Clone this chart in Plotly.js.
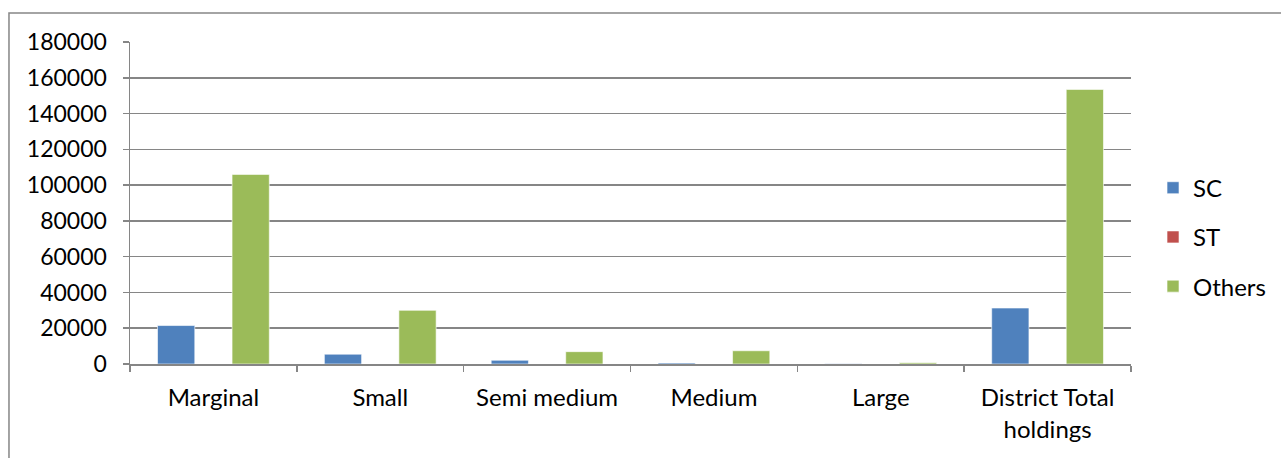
<!DOCTYPE html>
<html>
<head>
<meta charset="utf-8">
<script src="https://cdn.plot.ly/plotly-3.0.1.min.js"></script>
<style>html,body{margin:0;padding:0;background:#fff;}#chart{width:1281px;height:458px;}</style>
</head>
<body>
<div id="chart"></div>
<script>
const categories = ["Marginal", "Small", "Semi medium", "Medium", "Large", "District Total<br>holdings"];
const scValues = [21500, 5500, 2100, 600, 100, 31300];
const stValues = [0, 0, 0, 0, 0, 0];
const othersValues = [106000, 30000, 6900, 7400, 700, 153500];
const yTicks = [0, 20000, 40000, 60000, 80000, 100000, 120000, 140000, 160000, 180000];

const FONT = "Lato, 'Open Sans', sans-serif";
function bar(name, y, color, grp) {
  return {type: 'bar', name: name, x: categories, y: y, legendgroup: grp,
    marker: {color: color, line: {color: 'rgba(255,255,255,0.6)', width: 1}}, hoverinfo: 'none'};
}
const data = [
  bar('SC', scValues, '#4F81BD', 'a'),
  bar('ST', stValues, '#C0504D', 'b'),
  bar('Others', othersValues, '#9BBB59', 'c')
];
const layout = {
  width: 1281, height: 458,
  margin: {l: 130, r: 150, t: 42, b: 94, autoexpand: false},
  paper_bgcolor: '#fff', plot_bgcolor: '#fff',
  font: {family: FONT, size: 24, color: '#000'},
  barmode: 'group', bargap: 0.33, bargroupgap: 0,
  showlegend: true,
  legend: {x: 1.022, y: 0.394, xanchor: 'left', yanchor: 'middle', traceorder: 'grouped', tracegroupgap: 15,
    font: {family: FONT, size: 24, color: '#000'}, itemwidth: 30},
  xaxis: {type: 'category', tickson: 'boundaries', ticks: 'outside', ticklen: 6, tickcolor: '#868686', tickwidth: 1.5,
    showline: true, linecolor: '#868686', linewidth: 1.5, showgrid: false, ticklabelstandoff: 12,
    tickfont: {family: FONT, size: 24, color: '#000'}},
  yaxis: {range: [0, 180000], tickvals: yTicks, ticktext: yTicks.map(String), ticks: 'outside', ticklen: 6,
    tickcolor: '#868686', tickwidth: 1.5, showline: true, linecolor: '#868686', linewidth: 1.5,
    showgrid: true, gridcolor: '#868686', gridwidth: 1.5, zeroline: false, ticklabelstandoff: 11,
    tickfont: {family: FONT, size: 23, color: '#000'}},
  shapes: [{type: 'rect', xref: 'paper', yref: 'paper', x0: -0.1209, x1: 1.3, y0: -0.5, y1: 1.09,
    line: {color: '#868686', width: 1.5}, fillcolor: 'rgba(0,0,0,0)', layer: 'below'}]
};
Plotly.newPlot('chart', data, layout, {staticPlot: true});
</script>
</body>
</html>
